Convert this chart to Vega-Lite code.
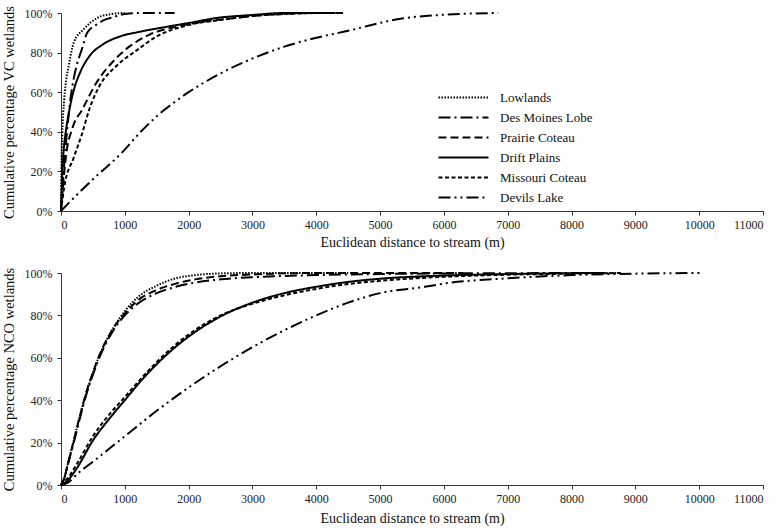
{
  "$schema": "https://vega.github.io/schema/vega-lite/v6.json",
  "padding": {"left": 1, "top": 5, "right": 5, "bottom": 3},
  "background": "white",
  "spacing": 62,
  "bounds": "flush",
  "config": {
    "font": "Liberation Serif",
    "view": {"stroke": null},
    "axis": {
      "grid": false,
      "domainColor": "#333",
      "tickColor": "#333",
      "labelColor": "#222",
      "titleColor": "#111",
      "labelFont": "Liberation Serif",
      "titleFont": "Liberation Serif",
      "labelFontSize": 12,
      "titleFontSize": 14,
      "titleFontWeight": "normal",
      "tickSize": 4
    },
    "axisY": {"titleFontSize": 14.5},
    "legend": {"labelFont": "Liberation Serif", "labelFontSize": 13},
    "line": {"strokeWidth": 2, "color": "black", "interpolate": "monotone"}
  },
  "resolve": {"scale": {"strokeDash": "independent"}, "legend": {"strokeDash": "independent"}},
  "vconcat": [
    {
      "width": 702,
      "height": 198,
      "data": {"values": [
        {"r":"Lowlands","d":0,"p":0},{"r":"Lowlands","d":5,"p":0.19},{"r":"Lowlands","d":20,"p":0.39},{"r":"Lowlands","d":50,"p":0.56},{"r":"Lowlands","d":125,"p":0.74},{"r":"Lowlands","d":200,"p":0.85},{"r":"Lowlands","d":360,"p":0.92},{"r":"Lowlands","d":570,"p":0.975},{"r":"Lowlands","d":790,"p":0.995},{"r":"Lowlands","d":1000,"p":1.0},
        {"r":"Des Moines Lobe","d":0,"p":0},{"r":"Des Moines Lobe","d":30,"p":0.15},{"r":"Des Moines Lobe","d":80,"p":0.35},{"r":"Des Moines Lobe","d":150,"p":0.57},{"r":"Des Moines Lobe","d":200,"p":0.67},{"r":"Des Moines Lobe","d":250,"p":0.74},{"r":"Des Moines Lobe","d":330,"p":0.82},{"r":"Des Moines Lobe","d":410,"p":0.9},{"r":"Des Moines Lobe","d":550,"p":0.94},{"r":"Des Moines Lobe","d":680,"p":0.965},{"r":"Des Moines Lobe","d":830,"p":0.98},{"r":"Des Moines Lobe","d":1000,"p":0.995},{"r":"Des Moines Lobe","d":1200,"p":1.0},{"r":"Des Moines Lobe","d":1780,"p":1.0},
        {"r":"Prairie Coteau","d":0,"p":0},{"r":"Prairie Coteau","d":30,"p":0.12},{"r":"Prairie Coteau","d":75,"p":0.27},{"r":"Prairie Coteau","d":180,"p":0.42},{"r":"Prairie Coteau","d":330,"p":0.51},{"r":"Prairie Coteau","d":550,"p":0.645},{"r":"Prairie Coteau","d":800,"p":0.75},{"r":"Prairie Coteau","d":1070,"p":0.83},{"r":"Prairie Coteau","d":1380,"p":0.89},{"r":"Prairie Coteau","d":1800,"p":0.93},{"r":"Prairie Coteau","d":2200,"p":0.955},{"r":"Prairie Coteau","d":2600,"p":0.97},{"r":"Prairie Coteau","d":3000,"p":0.985},{"r":"Prairie Coteau","d":3500,"p":0.995},{"r":"Prairie Coteau","d":4000,"p":1.0},{"r":"Prairie Coteau","d":4420,"p":1.0},
        {"r":"Drift Plains","d":0,"p":0},{"r":"Drift Plains","d":15,"p":0.15},{"r":"Drift Plains","d":40,"p":0.3},{"r":"Drift Plains","d":75,"p":0.4},{"r":"Drift Plains","d":125,"p":0.5},{"r":"Drift Plains","d":200,"p":0.61},{"r":"Drift Plains","d":300,"p":0.7},{"r":"Drift Plains","d":440,"p":0.78},{"r":"Drift Plains","d":650,"p":0.84},{"r":"Drift Plains","d":910,"p":0.88},{"r":"Drift Plains","d":1230,"p":0.905},{"r":"Drift Plains","d":1650,"p":0.93},{"r":"Drift Plains","d":2010,"p":0.95},{"r":"Drift Plains","d":2440,"p":0.975},{"r":"Drift Plains","d":3000,"p":0.99},{"r":"Drift Plains","d":3500,"p":1.0},{"r":"Drift Plains","d":4300,"p":1.0},
        {"r":"Missouri Coteau","d":0,"p":0},{"r":"Missouri Coteau","d":50,"p":0.12},{"r":"Missouri Coteau","d":200,"p":0.27},{"r":"Missouri Coteau","d":330,"p":0.39},{"r":"Missouri Coteau","d":440,"p":0.51},{"r":"Missouri Coteau","d":600,"p":0.63},{"r":"Missouri Coteau","d":860,"p":0.73},{"r":"Missouri Coteau","d":1180,"p":0.81},{"r":"Missouri Coteau","d":1490,"p":0.88},{"r":"Missouri Coteau","d":2010,"p":0.94},{"r":"Missouri Coteau","d":2500,"p":0.965},{"r":"Missouri Coteau","d":3000,"p":0.985},{"r":"Missouri Coteau","d":3500,"p":0.995},{"r":"Missouri Coteau","d":4000,"p":1.0},
        {"r":"Devils Lake","d":0,"p":0},{"r":"Devils Lake","d":150,"p":0.05},{"r":"Devils Lake","d":500,"p":0.16},{"r":"Devils Lake","d":940,"p":0.29},{"r":"Devils Lake","d":1250,"p":0.4},{"r":"Devils Lake","d":1540,"p":0.49},{"r":"Devils Lake","d":1780,"p":0.55},{"r":"Devils Lake","d":2000,"p":0.6},{"r":"Devils Lake","d":2530,"p":0.7},{"r":"Devils Lake","d":3000,"p":0.77},{"r":"Devils Lake","d":3500,"p":0.83},{"r":"Devils Lake","d":4000,"p":0.875},{"r":"Devils Lake","d":4500,"p":0.91},{"r":"Devils Lake","d":5000,"p":0.95},{"r":"Devils Lake","d":5300,"p":0.97},{"r":"Devils Lake","d":5940,"p":0.99},{"r":"Devils Lake","d":6850,"p":1.0}
      ]},
      "mark": {"type": "line"},
      "encoding": {
        "x": {"field": "d", "type": "quantitative", "scale": {"domain": [0, 11000], "nice": false},
              "axis": {"title": "Euclidean distance to stream (m)", "values": [0,1000,2000,3000,4000,5000,6000,7000,8000,9000,10000,11000], "format": "d", "labelPadding": 4, "titlePadding": 5}},
        "y": {"field": "p", "type": "quantitative", "scale": {"domain": [0, 1], "nice": false},
              "axis": {"title": "Cumulative percentage VC wetlands", "values": [0,0.2,0.4,0.6,0.8,1], "format": ".0%", "labelPadding": 5, "titlePadding": 8}},
        "detail": {"field": "r"},
        "strokeDash": {"field": "r", "type": "nominal",
          "scale": {"domain": ["Lowlands","Des Moines Lobe","Prairie Coteau","Drift Plains","Missouri Coteau","Devils Lake"],
                    "range": [[1.5,1.5],[12,4,2,4],[8,4],[1,0],[4,2.5],[12,4,2,4,2,4]]},
          "legend": {"title": null, "orient": "none", "legendX": 396, "legendY": 78, "symbolType": "M-5,0H5", "symbolSize": 100, "symbolStrokeWidth": 2, "symbolStrokeColor": "black", "symbolFillColor": "transparent", "labelFont": "Liberation Serif", "labelFontSize": 13, "labelColor": "#111", "rowPadding": 6, "labelOffset": 30, "padding": 0}}
      }
    },
    {
      "width": 702,
      "height": 212,
      "data": {"values": [
        {"r":"Lowlands","d":0,"p":0},{"r":"Lowlands","d":50,"p":0.03},{"r":"Lowlands","d":100,"p":0.09},{"r":"Lowlands","d":200,"p":0.21},{"r":"Lowlands","d":300,"p":0.33},{"r":"Lowlands","d":400,"p":0.44},{"r":"Lowlands","d":500,"p":0.53},{"r":"Lowlands","d":600,"p":0.61},{"r":"Lowlands","d":800,"p":0.73},{"r":"Lowlands","d":1000,"p":0.82},{"r":"Lowlands","d":1200,"p":0.885},{"r":"Lowlands","d":1500,"p":0.94},{"r":"Lowlands","d":1800,"p":0.975},{"r":"Lowlands","d":2100,"p":0.99},{"r":"Lowlands","d":2500,"p":0.998},{"r":"Lowlands","d":3000,"p":1.0},{"r":"Lowlands","d":4500,"p":1.0},
        {"r":"Des Moines Lobe","d":0,"p":0},{"r":"Des Moines Lobe","d":50,"p":0.03},{"r":"Des Moines Lobe","d":100,"p":0.09},{"r":"Des Moines Lobe","d":200,"p":0.2},{"r":"Des Moines Lobe","d":300,"p":0.32},{"r":"Des Moines Lobe","d":400,"p":0.43},{"r":"Des Moines Lobe","d":500,"p":0.52},{"r":"Des Moines Lobe","d":600,"p":0.6},{"r":"Des Moines Lobe","d":800,"p":0.72},{"r":"Des Moines Lobe","d":1000,"p":0.8},{"r":"Des Moines Lobe","d":1200,"p":0.855},{"r":"Des Moines Lobe","d":1500,"p":0.905},{"r":"Des Moines Lobe","d":1800,"p":0.935},{"r":"Des Moines Lobe","d":2100,"p":0.955},{"r":"Des Moines Lobe","d":2500,"p":0.97},{"r":"Des Moines Lobe","d":3000,"p":0.98},{"r":"Des Moines Lobe","d":4000,"p":0.99},{"r":"Des Moines Lobe","d":5000,"p":0.995},{"r":"Des Moines Lobe","d":6000,"p":0.998},{"r":"Des Moines Lobe","d":8700,"p":1.0},
        {"r":"Prairie Coteau","d":0,"p":0},{"r":"Prairie Coteau","d":50,"p":0.03},{"r":"Prairie Coteau","d":100,"p":0.09},{"r":"Prairie Coteau","d":200,"p":0.21},{"r":"Prairie Coteau","d":300,"p":0.33},{"r":"Prairie Coteau","d":400,"p":0.44},{"r":"Prairie Coteau","d":500,"p":0.53},{"r":"Prairie Coteau","d":600,"p":0.61},{"r":"Prairie Coteau","d":800,"p":0.73},{"r":"Prairie Coteau","d":1000,"p":0.81},{"r":"Prairie Coteau","d":1200,"p":0.87},{"r":"Prairie Coteau","d":1500,"p":0.92},{"r":"Prairie Coteau","d":1800,"p":0.95},{"r":"Prairie Coteau","d":2100,"p":0.97},{"r":"Prairie Coteau","d":2500,"p":0.985},{"r":"Prairie Coteau","d":3000,"p":0.993},{"r":"Prairie Coteau","d":4000,"p":1.0},{"r":"Prairie Coteau","d":6300,"p":1.0},
        {"r":"Drift Plains","d":0,"p":0},{"r":"Drift Plains","d":100,"p":0.02},{"r":"Drift Plains","d":250,"p":0.08},{"r":"Drift Plains","d":500,"p":0.21},{"r":"Drift Plains","d":750,"p":0.31},{"r":"Drift Plains","d":1000,"p":0.4},{"r":"Drift Plains","d":1250,"p":0.49},{"r":"Drift Plains","d":1500,"p":0.57},{"r":"Drift Plains","d":1750,"p":0.64},{"r":"Drift Plains","d":2000,"p":0.7},{"r":"Drift Plains","d":2500,"p":0.795},{"r":"Drift Plains","d":3000,"p":0.86},{"r":"Drift Plains","d":3500,"p":0.905},{"r":"Drift Plains","d":4000,"p":0.935},{"r":"Drift Plains","d":4500,"p":0.958},{"r":"Drift Plains","d":5000,"p":0.973},{"r":"Drift Plains","d":6000,"p":0.988},{"r":"Drift Plains","d":7000,"p":0.995},{"r":"Drift Plains","d":8000,"p":0.999},{"r":"Drift Plains","d":8400,"p":1.0},
        {"r":"Missouri Coteau","d":0,"p":0},{"r":"Missouri Coteau","d":100,"p":0.03},{"r":"Missouri Coteau","d":250,"p":0.1},{"r":"Missouri Coteau","d":500,"p":0.23},{"r":"Missouri Coteau","d":750,"p":0.33},{"r":"Missouri Coteau","d":1000,"p":0.415},{"r":"Missouri Coteau","d":1250,"p":0.5},{"r":"Missouri Coteau","d":1500,"p":0.58},{"r":"Missouri Coteau","d":1750,"p":0.65},{"r":"Missouri Coteau","d":2000,"p":0.71},{"r":"Missouri Coteau","d":2500,"p":0.8},{"r":"Missouri Coteau","d":3000,"p":0.855},{"r":"Missouri Coteau","d":3500,"p":0.895},{"r":"Missouri Coteau","d":4000,"p":0.925},{"r":"Missouri Coteau","d":4500,"p":0.948},{"r":"Missouri Coteau","d":5000,"p":0.963},{"r":"Missouri Coteau","d":6000,"p":0.982},{"r":"Missouri Coteau","d":7000,"p":0.992},{"r":"Missouri Coteau","d":8000,"p":0.997},{"r":"Missouri Coteau","d":8800,"p":1.0},
        {"r":"Devils Lake","d":0,"p":0},{"r":"Devils Lake","d":100,"p":0.01},{"r":"Devils Lake","d":265,"p":0.055},{"r":"Devils Lake","d":500,"p":0.11},{"r":"Devils Lake","d":1000,"p":0.23},{"r":"Devils Lake","d":1500,"p":0.35},{"r":"Devils Lake","d":2000,"p":0.46},{"r":"Devils Lake","d":2500,"p":0.56},{"r":"Devils Lake","d":3000,"p":0.65},{"r":"Devils Lake","d":3500,"p":0.73},{"r":"Devils Lake","d":4000,"p":0.8},{"r":"Devils Lake","d":4500,"p":0.86},{"r":"Devils Lake","d":5000,"p":0.905},{"r":"Devils Lake","d":5700,"p":0.935},{"r":"Devils Lake","d":6000,"p":0.95},{"r":"Devils Lake","d":7000,"p":0.975},{"r":"Devils Lake","d":8000,"p":0.99},{"r":"Devils Lake","d":9000,"p":0.997},{"r":"Devils Lake","d":10050,"p":1.0}
      ]},
      "mark": {"type": "line"},
      "encoding": {
        "x": {"field": "d", "type": "quantitative", "scale": {"domain": [0, 11000], "nice": false},
              "axis": {"title": "Euclidean distance to stream (m)", "values": [0,1000,2000,3000,4000,5000,6000,7000,8000,9000,10000,11000], "format": "d", "labelPadding": 4, "titlePadding": 7}},
        "y": {"field": "p", "type": "quantitative", "scale": {"domain": [0, 1], "nice": false},
              "axis": {"title": "Cumulative percentage NCO wetlands", "values": [0,0.2,0.4,0.6,0.8,1], "format": ".0%", "labelPadding": 5, "titlePadding": 8}},
        "detail": {"field": "r"},
        "strokeDash": {"field": "r", "type": "nominal",
          "scale": {"domain": ["Lowlands","Des Moines Lobe","Prairie Coteau","Drift Plains","Missouri Coteau","Devils Lake"],
                    "range": [[1.5,1.5],[12,4,2,4],[8,4],[1,0],[4,2.5],[12,4,2,4,2,4]]},
          "legend": null}
      }
    }
  ]
}
